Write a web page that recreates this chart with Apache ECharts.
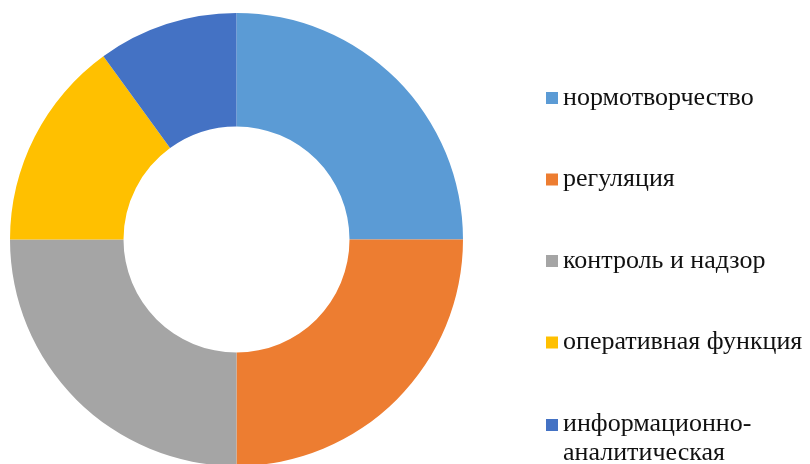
<!DOCTYPE html>
<html>
<head>
<meta charset="utf-8">
<script src="https://cdn.jsdelivr.net/npm/echarts@6/dist/echarts.min.js"></script>
<style>
  html, body { margin: 0; padding: 0; background: #fff; }
  #chart { width: 810px; height: 464px; }
</style>
</head>
<body>
<div id="chart"></div>
<script>
// данные диаграммы
var categories = ['нормотворчество', 'регуляция', 'контроль и надзор', 'оперативная функция', 'информационно-аналитическая'];
var values = [25, 25, 25, 15, 10];
var colors = ['#5B9BD5', '#ED7D31', '#A5A5A5', '#FFC000', '#4472C4'];

var chart = echarts.init(document.getElementById('chart'));

var pieData = categories.map(function (name, i) {
  return { name: name, value: values[i], itemStyle: { color: colors[i] } };
});

var legendText = {
  fontFamily: 'Liberation Serif',
  fontSize: 26,
  lineHeight: 30,
  color: '#111'
};

chart.setOption({
  animation: false,
  legend: [{
    orient: 'vertical',
    left: 541,
    top: 78,
    icon: 'rect',
    itemWidth: 12,
    itemHeight: 12,
    itemGap: 51.5,
    data: categories.slice(0, 4),
    textStyle: legendText,
    selectedMode: false
  }, {
    orient: 'vertical',
    left: 541,
    top: 405,
    // квадрат у первой строки подписи
    icon: 'path://M0,0L12,0L12,12L0,12Z M0,40L0.01,40L0,39.99Z',
    itemWidth: 12,
    itemHeight: 40,
    data: categories.slice(4),
    formatter: function (name) {
      return name.replace('-', '-\n');
    },
    textStyle: Object.assign({}, legendText, { lineHeight: 29 }),
    selectedMode: false
  }],
  series: [{
    type: 'pie',
    center: [236.5, 239.5],
    radius: [113, 226.5],
    startAngle: 90,
    clockwise: true,
    label: { show: false },
    labelLine: { show: false },
    emphasis: { disabled: true },
    data: pieData
  }]
});
</script>
</body>
</html>
